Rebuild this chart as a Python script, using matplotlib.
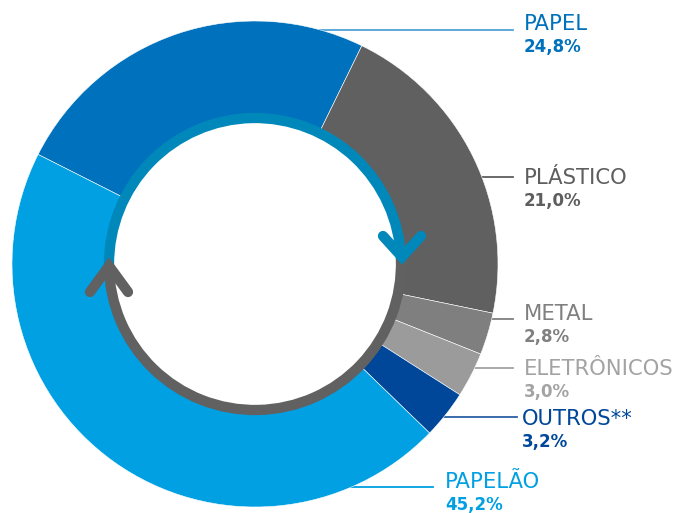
import matplotlib
matplotlib.use("Agg")
import matplotlib.pyplot as plt
from matplotlib.patches import Arc

# composition of collected waste (%)
categories = ["PAPEL", "PLÁSTICO", "METAL", "ELETRÔNICOS", "OUTROS**", "PAPELÃO"]
shares = [24.8, 21.0, 2.8, 3.0, 3.2, 45.2]
slice_colors = ["#0071bc", "#606060", "#7f7f7f", "#9b9b9b", "#00479a", "#00a0e3"]
text_colors = ["#0071bc", "#5e5e5e", "#808080", "#a3a3a3", "#00479a", "#00a0e3"]

W, H = 686, 513
CX, CY = 255, 264          # donut centre (pixels from top-left)
R_OUT, R_IN = 243, 146


def py(y):
    """top-down pixel row -> axes y"""
    return H - y


fig = plt.figure(figsize=(W / 100, H / 100), dpi=100)
ax = fig.add_axes([0, 0, 1, 1])

ax.pie(
    shares,
    radius=R_OUT,
    center=(CX, py(CY)),
    startangle=153.2,
    counterclock=False,
    colors=slice_colors,
    wedgeprops=dict(width=R_OUT - R_IN, edgecolor="white", linewidth=0.4),
    frame=True,
)

# recycling ring inside the donut
ring_lw = 7.4
ax.add_patch(Arc((CX, py(CY)), 2 * R_IN, 2 * R_IN, theta1=2, theta2=180.5,
                 color="#0088ba", lw=ring_lw, zorder=3))
ax.add_patch(Arc((CX, py(CY)), 2 * R_IN, 2 * R_IN, theta1=180.5, theta2=362,
                 color="#616161", lw=ring_lw, zorder=3))
ax.plot([383, 402, 421], [py(236), py(257), py(236)], color="#0088ba", lw=ring_lw,
        solid_capstyle="round", solid_joinstyle="miter", zorder=4)
ax.plot([90, 109, 128], [py(292), py(266), py(292)], color="#616161", lw=ring_lw,
        solid_capstyle="round", solid_joinstyle="miter", zorder=4)

# leader lines run from under the ring out to the labels
leaders = [
    (30, 260, 513, "#4fa3d9"),
    (177, 460, 513, "#5e5e5e"),
    (319, 470, 513, "#808080"),
    (368, 460, 513, "#a3a3a3"),
    (417, 420, 517, "#2a5fa6"),
    (487, 300, 433, "#00a0e3"),
]
for y, x0, x1, c in leaders:
    ax.plot([x0, x1], [py(y), py(y)], color=c, lw=1.3, zorder=0.5)

label_pos = [(524, 30), (524, 184), (524, 320), (524, 375), (522, 425), (445, 488)]
for name, share, col, (x, y) in zip(categories, shares, text_colors, label_pos):
    ax.text(x, py(y), name, color=col, fontsize=15.2, va="baseline", ha="left")
    pct = f"{share:.1f}%".replace(".", ",")
    ax.text(x, py(y + 22), pct, color=col, fontsize=12, fontweight="bold",
            va="baseline", ha="left")

ax.set_xlim(0, W)
ax.set_ylim(0, H)
ax.set_aspect("equal")
ax.axis("off")

fig.savefig("out.png", dpi=100, facecolor="white")
